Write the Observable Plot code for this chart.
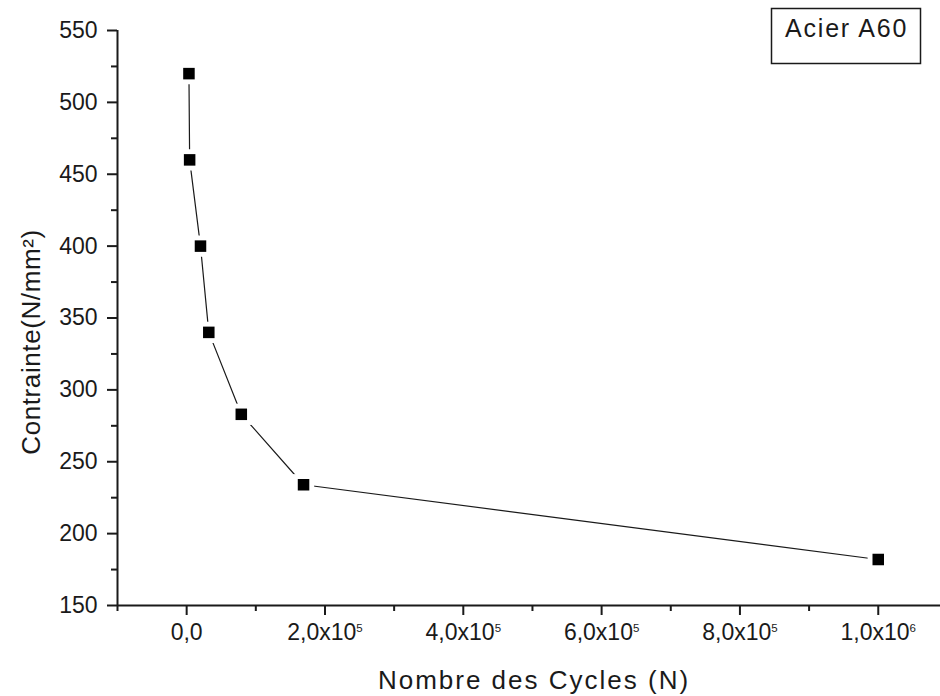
<!DOCTYPE html>
<html><head><meta charset="utf-8">
<script src="https://cdn.jsdelivr.net/npm/d3@7"></script>
<script src="https://cdn.jsdelivr.net/npm/@observablehq/plot@0.6"></script>
<style>body{margin:0;background:#fff;}</style>
</head><body><div id="chart"></div>
<script>
const cycles = [3300, 4300, 20000, 32000, 79000, 169000, 1000000];
const stress = [520, 460, 400, 340, 283, 234, 182];
const xMajorTicks = [0, 2e5, 4e5, 6e5, 8e5, 1e6];
const xTickLabels = ["0,0", "2,0x10^5", "4,0x10^5", "6,0x10^5", "8,0x10^5", "1,0x10^6"];
const xMinorTicks = [-1e5, 1e5, 3e5, 5e5, 7e5, 9e5];
const yMajorTicks = [150, 200, 250, 300, 350, 400, 450, 500, 550];
const yMinorTicks = [175, 225, 275, 325, 375, 425, 475, 525];
const xTitle = "Nombre des Cycles (N)";
const yTitle = "Contrainte(N/mm²)";
const legendText = "Acier A60";

const data = cycles.map((c, i) => ({cycles: c, stress: stress[i]}));
const ink = "#1a1a1a";

const chart = Plot.plot({
  width: 940, height: 696,
  marginLeft: 117, marginTop: 30, marginBottom: 91, marginRight: 0,
  x: {domain: [-1e5, 1.09e6]},
  y: {domain: [150, 550]},
  style: {fontFamily: "'Liberation Sans', Arial, sans-serif", fontSize: "23px", color: ink, background: "#fff"},
  marks: [
    Plot.ruleX([-1e5], {stroke: ink, strokeWidth: 2}),
    Plot.ruleY([150], {stroke: ink, strokeWidth: 2}),
    Plot.axisX({ticks: xMajorTicks, tickSize: 10, tickPadding: 8, strokeWidth: 2, stroke: ink,
      tickFormat: (d) => xTickLabels[xMajorTicks.indexOf(d)], label: null, fill: ink, className: "tl"}),
    Plot.axisX({ticks: xMinorTicks, tickSize: 6, strokeWidth: 2, stroke: ink, tickFormat: () => "", label: null}),
    Plot.axisY({ticks: yMajorTicks, tickSize: 10, tickPadding: 10, strokeWidth: 2, stroke: ink,
      tickFormat: (d) => String(d), label: null, fill: ink, className: "tl"}),
    Plot.axisY({ticks: yMinorTicks, tickSize: 6, strokeWidth: 2, stroke: ink, tickFormat: () => "", label: null}),
    Plot.line(data, {x: "cycles", y: "stress", stroke: ink, strokeWidth: 1.2}),
    Plot.dot(data, {x: "cycles", y: "stress", symbol: "square", r: 12, fill: "#fff", stroke: null}),
    Plot.dot(data, {x: "cycles", y: "stress", symbol: "square", r: 6.5, fill: "#000", stroke: null}),
    Plot.text([xTitle], {text: (d) => d, frameAnchor: "bottom", dy: 83, dx: 5, lineAnchor: "bottom",
      textAnchor: "middle", fontSize: 26, fill: ink, className: "xtitle"}),
    Plot.text([yTitle], {text: (d) => d, frameAnchor: "left", dx: -78, dy: 24, rotate: -90, lineAnchor: "bottom",
      textAnchor: "middle", fontSize: 26, fill: ink, className: "ytitle"})
  ]
});
document.getElementById("chart").append(chart);

const svg = d3.select(chart);
svg.selectAll(".tl").attr("font-size", 23);
svg.selectAll(".tl text").attr("font-size", 23);
svg.selectAll(".xtitle text").style("letter-spacing", "2px");
svg.selectAll(".ytitle text").style("letter-spacing", "0.6px");
svg.selectAll("text").each(function () {
  const t = this.textContent;
  if (t.includes("^")) {
    const [base, exp] = t.split("^");
    const el = d3.select(this);
    el.text(base);
    el.append("tspan").attr("dy", "-0.7em").attr("font-size", "0.5em").text(exp);
  }
});
const g = svg.append("g");
g.append("rect").attr("x", 771.5).attr("y", 8.5).attr("width", 149).attr("height", 55)
  .attr("fill", "#fff").attr("stroke", ink).attr("stroke-width", 1.5);
g.append("text").attr("x", 785).attr("y", 37).attr("font-size", 25).attr("fill", ink)
  .attr("text-anchor", "start").style("letter-spacing", "1.8px").text(legendText);
</script>
</body></html>
